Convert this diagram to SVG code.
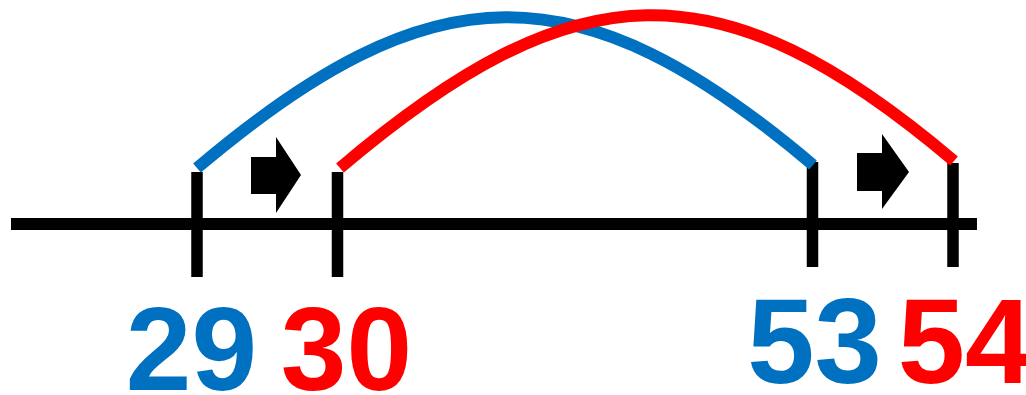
<svg xmlns="http://www.w3.org/2000/svg" width="1026" height="395" viewBox="0 0 1026 395">
  <style>
    .axis { stroke: #000; stroke-width: 12; fill: none; }
    .tick { stroke: #000; stroke-width: 11.5; fill: none; }
    .arc { stroke-width: 12; fill: none; stroke-linecap: butt; }
    .blue { stroke: #0070C0; }
    .red { stroke: #FF0000; }
    .arrow { fill: #000; }
    .num { font-family: "Liberation Sans", Arial, sans-serif; font-weight: bold; text-anchor: middle; }
  </style>
  <rect width="1026" height="395" fill="#fff"/>
  <g id="axis">
    <line class="axis" x1="11" y1="224" x2="977" y2="224"/>
  </g>
  <g id="ticks">
    <line id="tick29" class="tick" x1="197" y1="172" x2="197" y2="277"/>
    <line id="tick30" class="tick" x1="337.5" y1="172" x2="337.5" y2="277"/>
    <line id="tick53" class="tick" x1="812.5" y1="162" x2="812.5" y2="267"/>
    <line id="tick54" class="tick" x1="953" y1="163" x2="953" y2="267"/>
  </g>
  <g id="connectors">
    <path id="arc-blue" class="arc blue" d="M197,168 C432,-31 578,-34 813,165"/>
    <path id="arc-red" class="arc red" d="M340,168 C575,-31 719,-38 954,161"/>
  </g>
  <g id="arrow1">
    <polygon class="arrow" points="251,157 276,157 276,137 301,175 276,213 276,194 251,194"/>
  </g>
  <g id="arrow2">
    <polygon class="arrow" points="857,153 882,153 882,134 909,172 882,209 882,191 857,191"/>
  </g>
  <g id="label29"><text class="num" x="191.5" y="390" font-size="118" fill="#0070C0">29</text></g>
  <g id="label30"><text class="num" x="346.5" y="390" font-size="118" fill="#FF0000">30</text></g>
  <g id="label53"><text class="num" x="814.5" y="383" font-size="121" fill="#0070C0">53</text></g>
  <g id="label54"><text class="num" x="965" y="383" font-size="121" fill="#FF0000">54</text></g>
</svg>
